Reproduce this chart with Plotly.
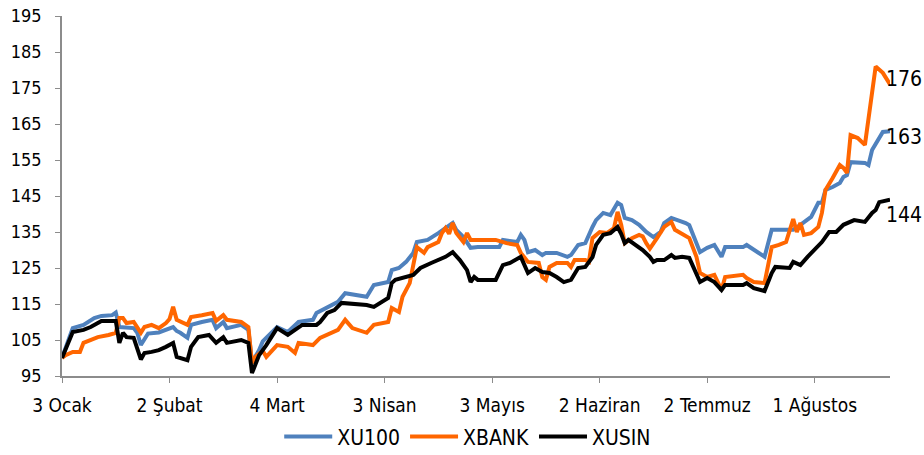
import plotly.graph_objects as go

# ---------------- data ----------------
xu100_dates = [
    "2023-01-03", "2023-01-06", "2023-01-09", "2023-01-12", "2023-01-14", "2023-01-17", "2023-01-18",
    "2023-01-19", "2023-01-23", "2023-01-24", "2023-01-25", "2023-01-27", "2023-01-30",
    "2023-02-01", "2023-02-03", "2023-02-04", "2023-02-05", "2023-02-07", "2023-02-08", "2023-02-11",
    "2023-02-14", "2023-02-15", "2023-02-17", "2023-02-18", "2023-02-22", "2023-02-24", "2023-02-25",
    "2023-02-27", "2023-02-28",
    "2023-03-04", "2023-03-07", "2023-03-10", "2023-03-14", "2023-03-15", "2023-03-18", "2023-03-21",
    "2023-03-23", "2023-03-29", "2023-03-31",
    "2023-04-04", "2023-04-05", "2023-04-07", "2023-04-09", "2023-04-11", "2023-04-12", "2023-04-15",
    "2023-04-18", "2023-04-20", "2023-04-22", "2023-04-23", "2023-04-25", "2023-04-27", "2023-04-29",
    "2023-05-05", "2023-05-06", "2023-05-10", "2023-05-11", "2023-05-12", "2023-05-13", "2023-05-15",
    "2023-05-17", "2023-05-18", "2023-05-21", "2023-05-24", "2023-05-25", "2023-05-27", "2023-05-29",
    "2023-05-31",
    "2023-06-01", "2023-06-03", "2023-06-05", "2023-06-07", "2023-06-08", "2023-06-09", "2023-06-11",
    "2023-06-13", "2023-06-14", "2023-06-15", "2023-06-17", "2023-06-19", "2023-06-20", "2023-06-22",
    "2023-06-26", "2023-06-27", "2023-06-30",
    "2023-07-02", "2023-07-04", "2023-07-06", "2023-07-07", "2023-07-12", "2023-07-13", "2023-07-15",
    "2023-07-17", "2023-07-18", "2023-07-20", "2023-07-23", "2023-07-26", "2023-07-28", "2023-07-31",
    "2023-08-02", "2023-08-03", "2023-08-04", "2023-08-06", "2023-08-08", "2023-08-09", "2023-08-10",
    "2023-08-11", "2023-08-15", "2023-08-16", "2023-08-17", "2023-08-19", "2023-08-20", "2023-08-22",
]
xu100 = [
    100, 108.3, 109.2, 111.1, 111.7, 111.9, 112.6, 108.6, 108.3, 107, 103.6, 106.8, 107.1,
    107.8, 108.6, 107.5, 107, 105.6, 109.2, 110, 110.6, 108.3, 110, 108.3, 109.2, 107.8, 98.8, 102.2, 104.6,
    108.6, 107.2, 110, 110.6, 112.5, 114.2, 115.6, 118, 117, 120.3,
    121.1, 124.4, 125, 126.7, 129.2, 132.2, 132.8, 134.7, 136.1, 137.5, 135.6, 133.6, 130.6, 130.8,
    130.8, 132.8, 132.2, 134.2, 132.8, 129.4, 130, 128.6, 129.2, 129.2, 128.1, 128.6, 131.4, 131.9, 136.4,
    138.3, 140.3, 139.7, 143.1, 142.5, 138.9, 138.3, 137, 136.1, 135, 133.6, 135, 137.5, 138.9, 137.5, 136.9, 129.4,
    130.6, 131.4, 128.1, 130.8, 130.8, 131.4, 130, 128.6, 128.1, 135.6, 135.6, 135.6, 137, 139.2,
    143.1, 143.1, 146.7, 147.5, 148.6, 150.3, 150.8, 154.4, 154.2, 153.6, 157.8, 161.4, 162.8, 163,
]

xbank_dates = [
    "2023-01-03", "2023-01-04", "2023-01-06", "2023-01-08", "2023-01-09", "2023-01-11", "2023-01-13",
    "2023-01-16", "2023-01-18", "2023-01-19", "2023-01-20", "2023-01-21", "2023-01-23", "2023-01-25",
    "2023-01-26", "2023-01-28", "2023-01-30",
    "2023-02-01", "2023-02-02", "2023-02-03", "2023-02-04", "2023-02-07", "2023-02-08", "2023-02-11",
    "2023-02-14", "2023-02-15", "2023-02-17", "2023-02-18", "2023-02-22", "2023-02-24", "2023-02-25",
    "2023-02-26", "2023-02-28",
    "2023-03-01", "2023-03-04", "2023-03-07", "2023-03-09", "2023-03-10", "2023-03-14", "2023-03-16",
    "2023-03-19", "2023-03-21", "2023-03-23", "2023-03-25", "2023-03-29", "2023-03-31",
    "2023-04-04", "2023-04-05", "2023-04-07", "2023-04-08", "2023-04-10", "2023-04-11", "2023-04-12",
    "2023-04-14", "2023-04-15", "2023-04-18", "2023-04-19", "2023-04-20", "2023-04-21", "2023-04-22",
    "2023-04-23", "2023-04-25", "2023-04-26", "2023-04-27",
    "2023-05-04", "2023-05-07", "2023-05-10", "2023-05-11", "2023-05-13", "2023-05-16", "2023-05-17",
    "2023-05-18", "2023-05-19", "2023-05-21", "2023-05-24", "2023-05-25", "2023-05-26", "2023-05-29",
    "2023-05-30", "2023-05-31",
    "2023-06-02", "2023-06-04", "2023-06-06", "2023-06-07", "2023-06-08", "2023-06-09", "2023-06-11",
    "2023-06-13", "2023-06-14", "2023-06-15", "2023-06-16", "2023-06-18", "2023-06-20", "2023-06-22",
    "2023-06-23", "2023-06-27", "2023-06-29", "2023-06-30",
    "2023-07-02", "2023-07-04", "2023-07-06", "2023-07-07", "2023-07-12", "2023-07-13", "2023-07-15",
    "2023-07-18", "2023-07-19", "2023-07-20", "2023-07-22", "2023-07-24", "2023-07-26", "2023-07-27",
    "2023-07-28", "2023-07-29", "2023-07-31",
    "2023-08-02", "2023-08-03", "2023-08-04", "2023-08-06", "2023-08-08", "2023-08-09", "2023-08-10",
    "2023-08-11", "2023-08-13", "2023-08-15", "2023-08-16", "2023-08-17", "2023-08-18", "2023-08-20",
    "2023-08-22",
]
xbank = [
    100, 100.8, 101.7, 101.7, 104.2, 105, 105.8, 106.4, 107, 111.1, 111.1, 109.7, 110, 107, 108.6, 109.2, 108.3,
    109.7, 110.8, 114.2, 110.6, 109.2, 111.4, 111.9, 112.5, 110.3, 111.9, 110.6, 110, 108.6, 98.6, 100.3, 102,
    100.3, 103.6, 103.1, 101.4, 104.2, 103.6, 105.6, 107, 107.8, 110.6, 108.3, 107, 109.2,
    110, 113.9, 112.8, 117, 120.8, 126.4, 130.8, 129.2, 130.8, 132.2, 134.7, 136.1, 134.5, 137.5, 134.7,
    132.2, 134.7, 132.8,
    132.8, 131.9, 131.4, 129.2, 126.7, 126.4, 122.5, 121.7, 125.3, 126.4, 126.4, 125.3, 127.2, 127.2, 126.7, 133.3,
    135, 134.7, 136.1, 140.6, 137, 131.9, 133.3, 134.2, 133.8, 131.9, 130.4, 133.3, 136.4, 137.8, 135.6,
    133.3, 128.1, 123.6,
    122.5, 123.1, 118.9, 122.5, 123.1, 122.2, 121.1, 120.8, 126.4, 130.8, 131.4, 132.2, 138.6, 135, 137.5,
    134.2, 134.7,
    136.4, 140.3, 146.7, 150, 153.6, 152.8, 151.4, 161.9, 161.1, 159.2, 166.1, 174.4, 181, 179.2, 176,
]

xusin_dates = [
    "2023-01-03", "2023-01-06", "2023-01-09", "2023-01-11", "2023-01-14", "2023-01-18", "2023-01-19",
    "2023-01-20", "2023-01-21", "2023-01-23", "2023-01-25", "2023-01-26", "2023-01-28", "2023-01-30",
    "2023-02-01", "2023-02-03", "2023-02-04", "2023-02-07", "2023-02-08", "2023-02-10", "2023-02-13",
    "2023-02-15", "2023-02-17", "2023-02-18", "2023-02-22", "2023-02-24", "2023-02-25", "2023-02-26",
    "2023-02-27",
    "2023-03-01", "2023-03-04", "2023-03-07", "2023-03-11", "2023-03-15", "2023-03-16", "2023-03-18",
    "2023-03-20", "2023-03-22", "2023-03-29", "2023-03-31",
    "2023-04-04", "2023-04-05", "2023-04-06", "2023-04-11", "2023-04-13", "2023-04-16", "2023-04-20",
    "2023-04-22", "2023-04-24", "2023-04-26", "2023-04-27", "2023-04-28", "2023-04-29",
    "2023-05-04", "2023-05-06", "2023-05-08", "2023-05-11", "2023-05-13", "2023-05-15", "2023-05-17",
    "2023-05-19", "2023-05-21", "2023-05-23", "2023-05-25", "2023-05-27", "2023-05-29", "2023-05-31",
    "2023-06-01", "2023-06-03", "2023-06-05", "2023-06-07", "2023-06-08", "2023-06-09", "2023-06-10",
    "2023-06-12", "2023-06-14", "2023-06-16", "2023-06-17", "2023-06-18", "2023-06-20", "2023-06-22",
    "2023-06-23", "2023-06-25", "2023-06-27", "2023-06-30",
    "2023-07-02", "2023-07-04", "2023-07-06", "2023-07-07", "2023-07-12", "2023-07-13", "2023-07-15",
    "2023-07-18", "2023-07-20", "2023-07-21", "2023-07-25", "2023-07-26", "2023-07-28", "2023-07-30",
    "2023-08-02", "2023-08-03", "2023-08-05", "2023-08-07", "2023-08-09", "2023-08-10", "2023-08-12",
    "2023-08-15", "2023-08-17", "2023-08-18", "2023-08-19", "2023-08-22",
]
xusin = [
    100, 107.2, 107.8, 108.6, 110.3, 110.3, 104.2, 107, 105.8, 105.6, 99.6, 101.4, 101.7, 102.2,
    103.1, 104.2, 100.3, 99.4, 103.1, 105.8, 106.4, 104.2, 105.8, 104.2, 105, 104.2, 95.8, 98.6, 100.8,
    103.6, 108.3, 106.4, 109.2, 109.2, 110, 112.5, 113.3, 115.3, 114.7, 114.2,
    116.7, 120.8, 121.7, 123.1, 125, 126.4, 128.1, 129.4, 127.2, 124.4, 121.1, 122.5, 121.7,
    121.7, 125.8, 126.4, 128.1, 123.6, 125, 123.9, 123.6, 122.5, 121.1, 121.7, 125, 125.3, 128,
    131.4, 134.2, 134.7, 136.4, 134.5, 131.9, 132.8, 131.4, 130, 128.1, 126.7, 127.2, 127.2, 128.6,
    127.8, 128.1, 127.8, 121.1,
    122.2, 121.1, 118.9, 120.3, 120.3, 120.8, 119.4, 118.6, 123.6, 125.3, 125, 126.7, 125.8, 128.1,
    131.4, 132.2, 135, 135, 137, 137.5, 138.3, 137.8, 140.3, 141.1, 143.3, 144,
]

tick_dates = ["2023-01-03", "2023-02-02", "2023-03-04", "2023-04-03",
              "2023-05-03", "2023-06-02", "2023-07-02", "2023-08-01"]
tick_labels = ["3 Ocak", "2 Şubat", "4 Mart", "3 Nisan",
               "3 Mayıs", "2 Haziran", "2 Temmuz", "1 Ağustos"]

end_labels = ["163", "176", "144"]

assert len(xu100_dates) == len(xu100)
assert len(xbank_dates) == len(xbank)
assert len(xusin_dates) == len(xusin)

# ---------------- figure ----------------
FONT = "'DejaVu Sans Condensed', 'Liberation Sans', sans-serif"
series = [
    ("XU100", xu100_dates, xu100, "#4F81BD"),
    ("XBANK", xbank_dates, xbank, "#FF6600"),
    ("XUSIN", xusin_dates, xusin, "#000000"),
]

fig = go.Figure()
for name, d, v, c in series:
    fig.add_trace(go.Scatter(x=d, y=v, mode="lines", name=name,
                             line=dict(color=c, width=4)))

shifts = [-6, 5, -15]
for (name, d, v, c), lab, ys in zip(series, end_labels, shifts):
    fig.add_annotation(x=d[-1], y=v[-1], text=lab, showarrow=False,
                       xanchor="left", yanchor="middle", xshift=-6, yshift=ys,
                       font=dict(size=21, color="#000000", family=FONT))

fig.update_layout(
    width=924, height=455,
    margin=dict(l=62, r=34, t=16, b=79, autoexpand=False),
    paper_bgcolor="white", plot_bgcolor="white",
    font=dict(family=FONT, size=18, color="#000000"),
    showlegend=True,
    legend=dict(orientation="h", x=0.49, xanchor="center",
                yref="container", y=0.04, yanchor="middle",
                font=dict(size=21, color="#000000"), itemwidth=48, tracegroupgap=0),
)
fig.update_xaxes(
    type="date", range=["2023-01-03", "2023-08-22"],
    tickmode="array", tickvals=tick_dates, ticktext=tick_labels,
    showline=True, linecolor="#8C8C8C", linewidth=1.5,
    ticks="outside", ticklen=5, tickcolor="#8C8C8C",
    ticklabelstandoff=6, automargin=False,
    showgrid=False, zeroline=False,
    tickfont=dict(size=19, color="#000000"),
)
fig.update_yaxes(
    range=[95, 195], tick0=95, dtick=10,
    showline=True, linecolor="#8C8C8C", linewidth=1.5,
    ticks="outside", ticklen=5, tickcolor="#8C8C8C",
    ticklabelstandoff=10, automargin=False,
    showgrid=False, zeroline=False,
    tickfont=dict(size=18, color="#000000"),
)

fig.write_html("out.html",
               config={"displayModeBar": False},
               post_script="document.body.style.margin='0';document.body.style.overflow='hidden';")
